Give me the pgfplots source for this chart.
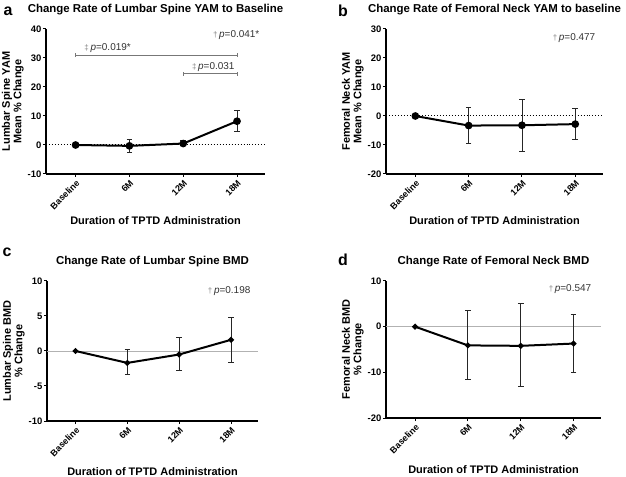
\documentclass[border=0pt]{standalone}
\usepackage{fontspec}
\setmainfont{Liberation Sans}
\usepackage{pgfplots}
\pgfplotsset{compat=1.18}
\definecolor{anno}{HTML}{333333}
\definecolor{brk}{HTML}{777777}
\begin{document}
\begin{tikzpicture}
\useasboundingbox (0bp,0bp) rectangle (626bp,477bp);
\pgfplotsset{
 panel/.style={scale only axis, axis lines=left, axis line style={-, line width=1.4bp},
  xmin=-0.55, xmax=3.52, xtick={0,1,2,3}, xticklabels={Baseline,6M,12M,18M},
  xticklabel style={rotate=45, anchor=north east, font=\bfseries\fontsize{9}{10}\selectfont, inner sep=1.5bp},
  yticklabel style={font=\bfseries\fontsize{9.5}{10}\selectfont, inner sep=1.5bp},
  tick style={black, line width=1bp}, major tick length=3bp, tick align=outside,
  xlabel={Duration of TPTD Administration},
  xlabel style={font=\bfseries\fontsize{11}{12}\selectfont, yshift=-1bp},
  ylabel style={font=\bfseries\fontsize{11}{11.5}\selectfont, align=center, yshift=-1bp},
  title style={font=\bfseries\fontsize{11.5}{13}\selectfont, yshift=5bp},
  clip=false, anchor=south west,
  /pgf/number format/assume math mode=true,
 },
 ser/.style={black, line width=2bp, mark=*, mark size=#1, mark options={solid},
  error bars/.cd, y dir=both, y explicit,
  error bar style={line width=0.9bp, black!85},
  error mark options={rotate=90, mark size=2.8bp, line width=0.9bp, black!85}},
 anno/.style={font=\fontsize{9.5}{11}\selectfont, text=anno, inner sep=0pt},
}
\newcommand{\dg}{{\color{black!50}\fontsize{8}{9}\selectfont †}\,}
\newcommand{\ddg}{{\color{black!50}\fontsize{8}{9}\selectfont ‡}\,}

% ---------- panel a ----------
\begin{axis}[panel, at={(46bp,303bp)}, width=219bp, height=145bp,
  ymin=-10, ymax=40, ytick={-10,0,10,20,30,40},
  title={Change Rate of Lumbar Spine YAM to Baseline},
  ylabel={Lumbar Spine YAM\\Mean \% Change}]
\addplot[black, dotted, line width=1bp] coordinates {(-0.55,0) (3.52,0)};
\addplot[ser=2.8bp] table[x=x, y=y, y error plus=ep, y error minus=em] {
x y ep em
0 0 0 0
1 -0.3 2.1 2.2
2 0.5 0.9 0.8
3 8.2 3.8 3.7
};
\draw[brk, line width=1bp] (axis cs:0,30.3) -- (axis cs:0,31.7) (axis cs:0,31) -- (axis cs:3,31) (axis cs:3,30.3) -- (axis cs:3,31.7);
\draw[brk, line width=1bp] (axis cs:2,23.8) -- (axis cs:2,25.2) (axis cs:2,24.5) -- (axis cs:3,24.5) (axis cs:3,23.8) -- (axis cs:3,25.2);
\node[anno, anchor=west] at (axis cs:0.1,33.6) {\ddg\textit{p}=0.019*};
\node[anno, anchor=west] at (axis cs:2.1,26.8) {\ddg\textit{p}=0.031};
\node[anno, anchor=east] at (axis cs:3.48,37.8) {\dg\textit{p}=0.041*};
\end{axis}

% ---------- panel b ----------
\begin{axis}[panel, at={(386bp,303bp)}, width=217bp, height=145bp,
  ymin=-20, ymax=30, ytick={-20,-10,0,10,20,30},
  title={Change Rate of Femoral Neck YAM to baseline},
  ylabel={Femoral Neck YAM\\Mean \% Change}]
\addplot[black, dotted, line width=1bp] coordinates {(-0.55,0) (3.52,0)};
\addplot[ser=2.8bp] table[x=x, y=y, y error plus=ep, y error minus=em] {
x y ep em
0 0 0 0
1 -3.3 6.3 6.0
2 -3.2 9.0 9.1
3 -2.8 5.3 5.4
};
\node[anno, anchor=east] at (axis cs:3.44,27) {\dg\textit{p}=0.477};
\end{axis}

% ---------- panel c ----------
\begin{axis}[panel, at={(47bp,56bp)}, width=211bp, height=140bp,
  ymin=-10, ymax=10, ytick={-10,-5,0,5,10},
  xlabel style={yshift=-4bp},
  title={Change Rate of Lumbar Spine BMD},
  ylabel={Lumbar Spine BMD\\\% Change}]
\addplot[black!30, line width=0.7bp] coordinates {(-0.55,0) (3.52,0)};
\addplot[ser=1.8bp] table[x=x, y=y, y error plus=ep, y error minus=em] {
x y ep em
0 0 0 0
1 -1.7 1.9 1.7
2 -0.5 2.4 2.3
3 1.6 3.2 3.2
};
\node[anno, anchor=east] at (axis cs:3.44,8.5) {\dg\textit{p}=0.198};
\end{axis}

% ---------- panel d ----------
\begin{axis}[panel, at={(386bp,59bp)}, width=215bp, height=137bp,
  ymin=-20, ymax=10, ytick={-20,-10,0,10},
  xlabel style={yshift=-5bp},
  title={Change Rate of Femoral Neck BMD},
  ylabel={Femoral Neck BMD\\\% Change}]
\addplot[black!30, line width=0.7bp] coordinates {(-0.55,0) (3.52,0)};
\addplot[ser=1.8bp] table[x=x, y=y, y error plus=ep, y error minus=em] {
x y ep em
0 0 0 0
1 -4.1 7.6 7.4
2 -4.2 9.2 9.0
3 -3.7 6.4 6.4
};
\node[anno, anchor=east] at (axis cs:3.40,8.2) {\dg\textit{p}=0.547};
\end{axis}

\node[font=\bfseries\fontsize{16}{17}\selectfont] at (8bp,466bp) {a};
\node[font=\bfseries\fontsize{16}{17}\selectfont] at (343bp,466bp) {b};
\node[font=\bfseries\fontsize{16}{17}\selectfont] at (7bp,225bp) {c};
\node[font=\bfseries\fontsize{16}{17}\selectfont] at (343bp,217bp) {d};
\end{tikzpicture}
\end{document}
